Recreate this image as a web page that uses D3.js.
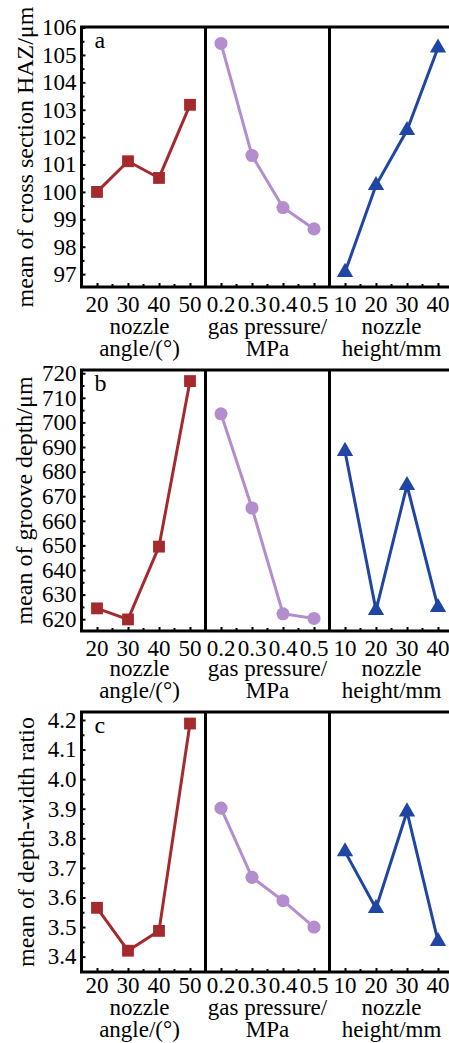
<!DOCTYPE html>
<html><head><meta charset="utf-8">
<script src="https://cdn.jsdelivr.net/npm/d3@7"></script>
<style>
body{margin:0;background:#fff}
svg{display:block}
</style>
</head><body><svg id="chart" width="449" height="1043"></svg>
<script>
// ---- data ----
const angleCats = ["20", "30", "40", "50"];
const pressureCats = ["0.2", "0.3", "0.4", "0.5"];
const heightCats = ["10", "20", "30", "40"];

const hazAngle = [100.0, 101.12, 100.51, 103.18];
const hazPressure = [105.42, 101.33, 99.43, 98.65];
const hazHeight = [97.07, 100.24, 102.25, 105.26];

const depthAngle = [624.4, 619.9, 649.5, 716.8];
const depthPressure = [703.5, 665.2, 622.2, 620.3];
const depthHeight = [688.3, 623.6, 674.4, 624.8];

const ratioAngle = [3.565, 3.42, 3.487, 4.188];
const ratioPressure = [3.902, 3.668, 3.589, 3.50];
const ratioHeight = [3.755, 3.563, 3.89, 3.452];

const hazTicks = [97, 98, 99, 100, 101, 102, 103, 104, 105, 106];
const depthTicks = [620, 630, 640, 650, 660, 670, 680, 690, 700, 710, 720];
const ratioTicks = [3.4, 3.5, 3.6, 3.7, 3.8, 3.9, 4.0, 4.1, 4.2];

const factorNames = [["nozzle", "angle/(°)"], ["gas pressure/", "MPa"], ["nozzle", "height/mm"]];
const factorCats = [angleCats, pressureCats, heightCats];
const colors = ["#a52a2e", "#b48dcf", "#1f46a3"];
const shapes = [d3.symbolSquare, d3.symbolCircle, d3.symbolTriangle];
const shapeSizes = [140, 135, 115];

// ---- layout ----
const FONT = "'Liberation Serif', Tinos, 'Times New Roman', Times, 'Nimbus Roman', 'DejaVu Serif', serif";
const svg = d3.select("#chart");
const x0 = 81.5, W = 124;
const nameShift = [-4, 0, 0];

const rows = [
  {top: 27, bottom: 287, domain: [96.53, 106.02], ticks: hazTicks, fmt: d3.format("d"),
   letter: "a", title: "mean of cross section HAZ/μm", titleX: 33,
   data: [hazAngle, hazPressure, hazHeight], lab: [24.5, 46.5, 68.5]},
  {top: 370, bottom: 631, domain: [615.2, 721.3], ticks: depthTicks, fmt: d3.format("d"),
   letter: "b", title: "mean of groove depth/μm", titleX: 32,
   data: [depthAngle, depthPressure, depthHeight], lab: [25, 45, 67]},
  {top: 712, bottom: 972, domain: [3.348, 4.227], ticks: ratioTicks, fmt: d3.format(".1f"),
   letter: "c", title: "mean of depth-width ratio", titleX: 34,
   data: [ratioAngle, ratioPressure, ratioHeight], lab: [20.5, 42.5, 64.5]}
];

function txt(sel) { return sel.append("text").attr("font-family", FONT).attr("fill", "#000"); }

rows.forEach(row => {
  const g = svg.append("g");
  const y = d3.scaleLinear().domain(row.domain).range([row.bottom, row.top]);

  // y axis ticks (inward)
  const yAxis = d3.axisRight(y).tickValues(row.ticks).tickSize(4).tickFormat("");
  const ya = g.append("g").attr("transform", `translate(${x0},0)`).call(yAxis);
  ya.select(".domain").remove();
  ya.selectAll("line").attr("stroke", "#000").attr("stroke-width", 2);
  const minorY = row.ticks.slice(1).map((t, i) => (t + row.ticks[i]) / 2);
  const yMinor = d3.axisRight(y).tickValues(minorY).tickSize(3).tickFormat("");
  const ym = g.append("g").attr("transform", `translate(${x0},0)`).call(yMinor);
  ym.select(".domain").remove();
  ym.selectAll("line").attr("stroke", "#000").attr("stroke-width", 2);

  // y tick labels
  row.ticks.forEach(t => {
    txt(g).attr("x", x0 - 5).attr("y", y(t)).attr("dy", "0.34em")
      .attr("text-anchor", "end").attr("font-size", 23).text(row.fmt(t));
  });

  // y title
  txt(g).attr("transform", `translate(${row.titleX},${(row.top + row.bottom) / 2}) rotate(-90)`)
    .attr("text-anchor", "middle").attr("font-size", 24).text(row.title);

  // panels
  factorCats.forEach((cats, p) => {
    const left = x0 + p * W;
    const x = d3.scalePoint().domain(cats).range([left, left + W]).padding(0.5);
    const xAxis = d3.axisTop(x).tickSize(4).tickFormat("");
    const xa = g.append("g").attr("transform", `translate(0,${row.bottom})`).call(xAxis);
    xa.select(".domain").remove();
    xa.selectAll("line").attr("stroke", "#000").attr("stroke-width", 2);
    const step = x.step();
    const minorX = cats.slice(1).map((c, i) => x(cats[i]) + step / 2);
    g.selectAll(null).data(minorX).enter().append("line")
      .attr("x1", d => d).attr("x2", d => d)
      .attr("y1", row.bottom).attr("y2", row.bottom - 3)
      .attr("stroke", "#000").attr("stroke-width", 2);

    // tick labels
    cats.forEach(c => {
      txt(g).attr("x", x(c)).attr("y", row.bottom + row.lab[0])
        .attr("text-anchor", "middle").attr("font-size", 23).text(c);
    });
    factorNames[p].forEach((t, i) => {
      txt(g).attr("x", left + W / 2 + nameShift[p]).attr("y", row.bottom + row.lab[i + 1])
        .attr("text-anchor", "middle").attr("font-size", 23).text(t);
    });

    // line + markers
    const vals = row.data[p];
    const pts = cats.map((c, i) => [x(c), y(vals[i])]);
    g.append("path").attr("d", d3.line()(pts))
      .attr("fill", "none").attr("stroke", colors[p]).attr("stroke-width", 3);
    g.selectAll(null).data(pts).enter().append("path")
      .attr("transform", d => `translate(${d[0]},${d[1]})`)
      .attr("d", d3.symbol().type(shapes[p]).size(shapeSizes[p]))
      .attr("fill", colors[p]);
  });

  // frame and dividers
  g.append("rect").attr("x", x0).attr("y", row.top).attr("width", 3 * W).attr("height", row.bottom - row.top)
    .attr("fill", "none").attr("stroke", "#000").attr("stroke-width", 3);
  [1, 2].forEach(k => {
    g.append("line").attr("x1", x0 + k * W).attr("x2", x0 + k * W)
      .attr("y1", row.top).attr("y2", row.bottom).attr("stroke", "#000").attr("stroke-width", 3);
  });

  // panel letter
  txt(g).attr("x", x0 + 13).attr("y", row.top + 21).attr("font-size", 24).text(row.letter);
});
</script></body></html>
